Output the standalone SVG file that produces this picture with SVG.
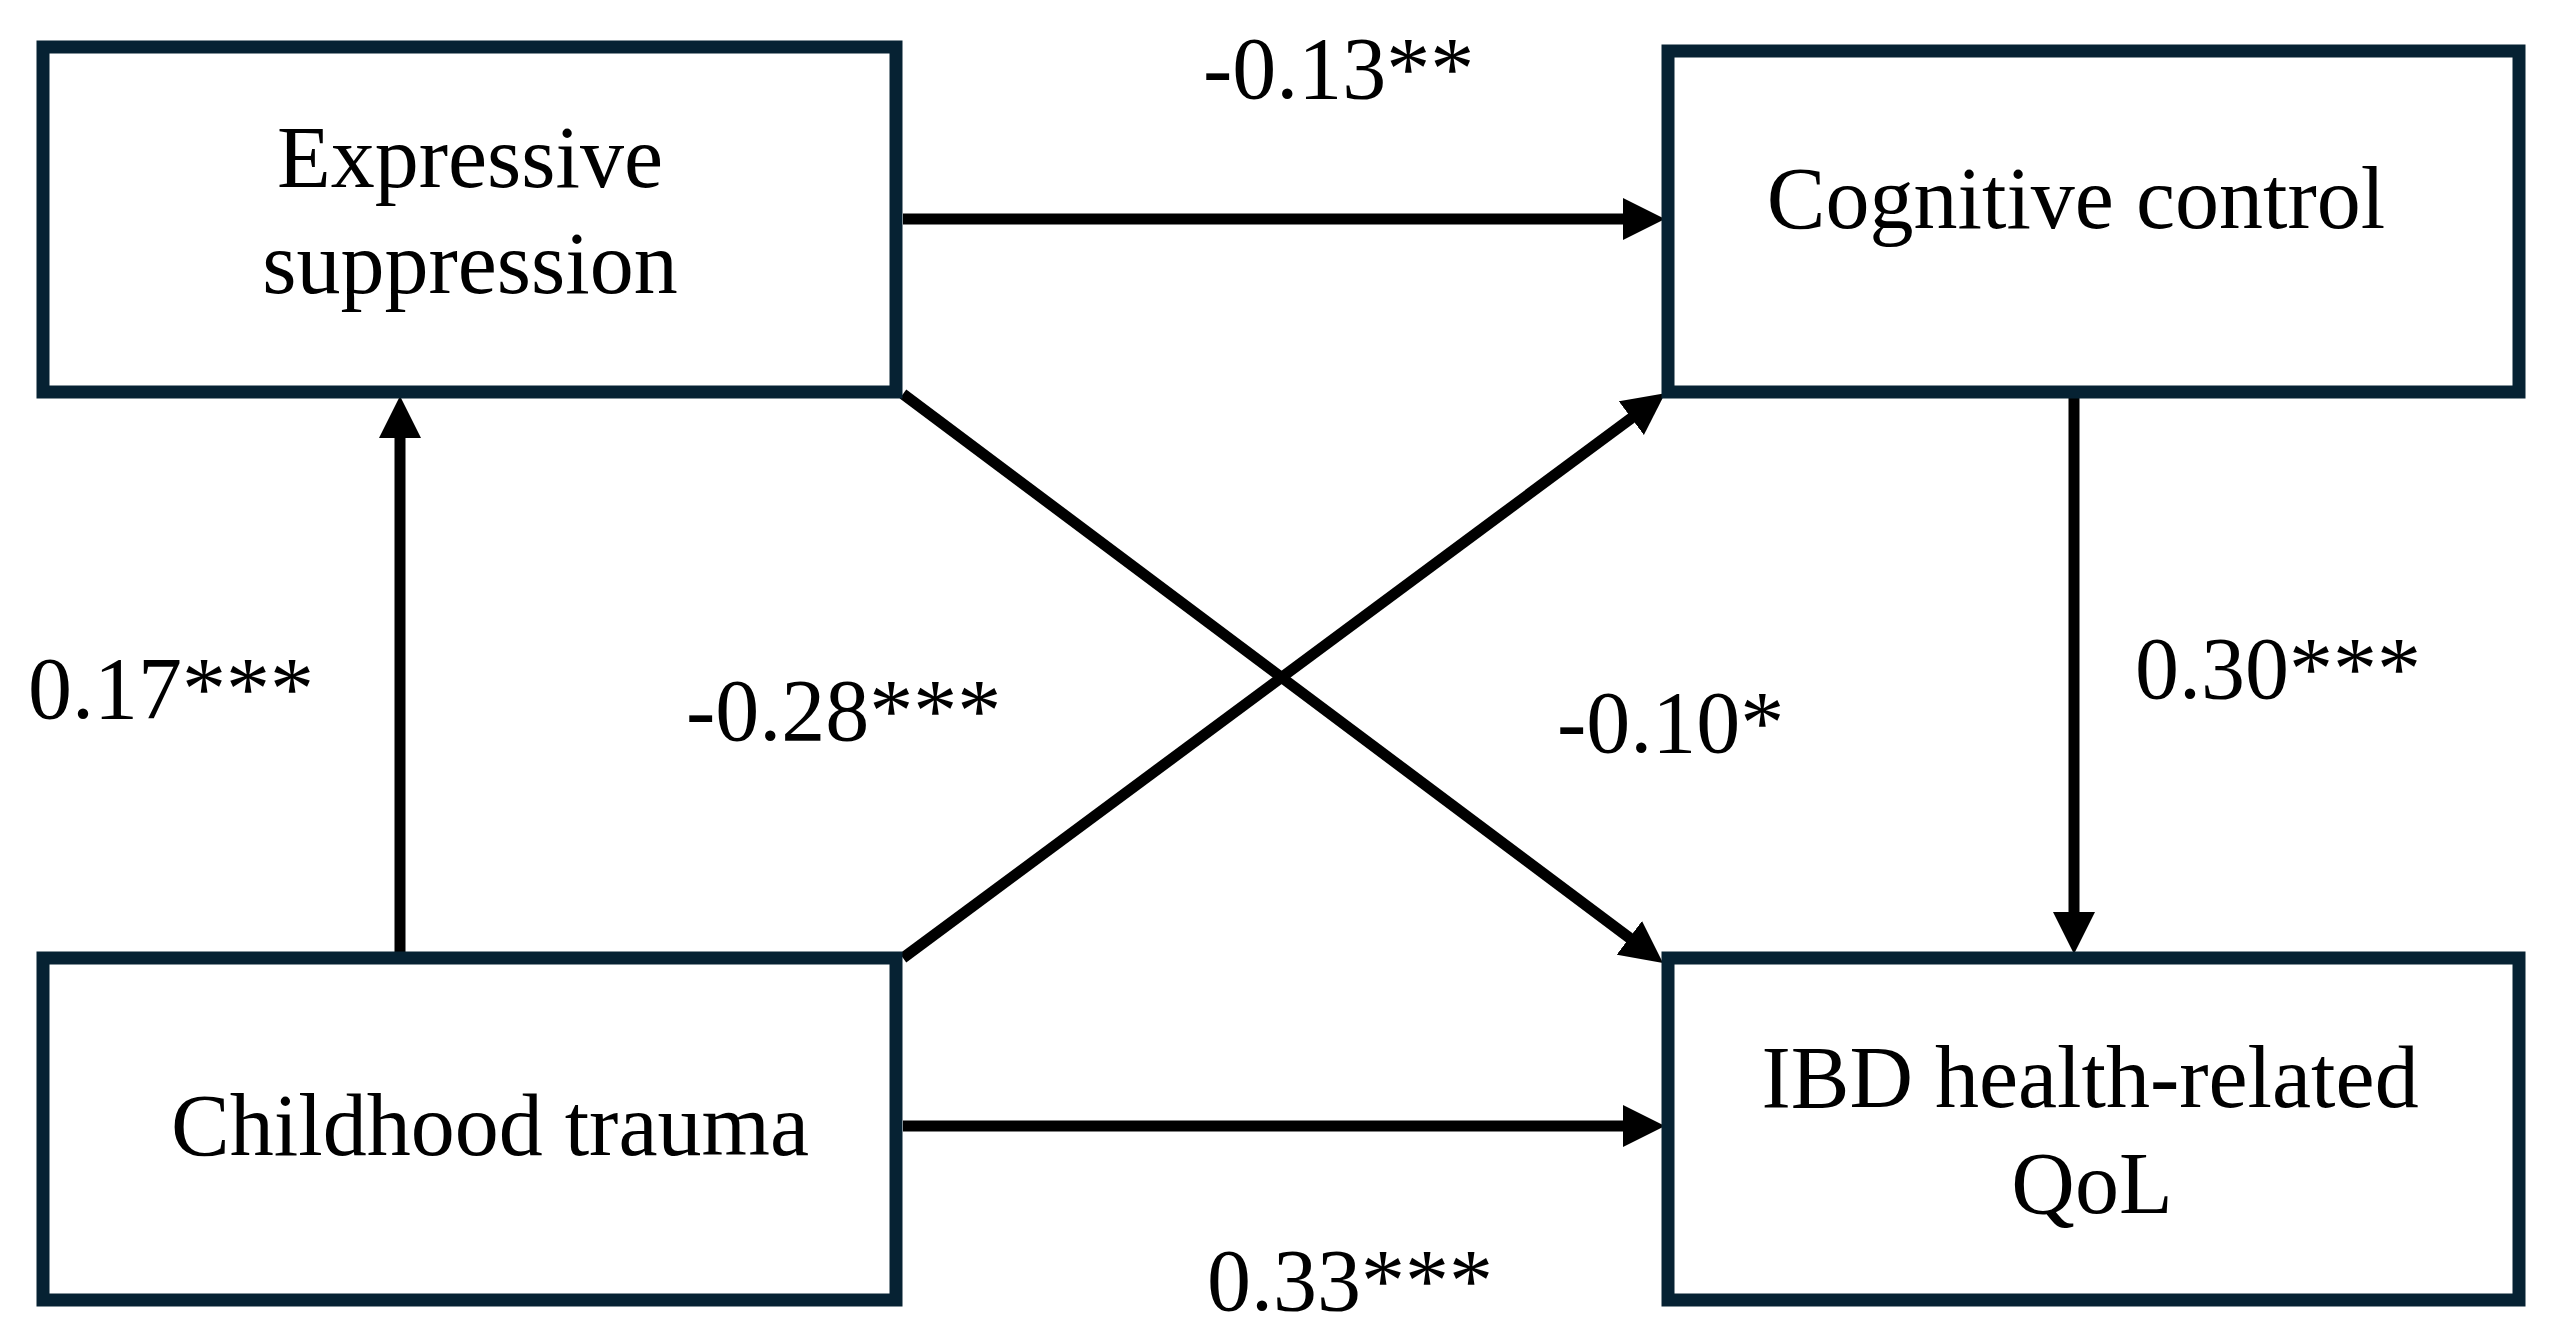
<svg xmlns="http://www.w3.org/2000/svg" width="2551" height="1339" viewBox="0 0 2551 1339">
  <style>
    .box { fill: #ffffff; stroke: #062233; stroke-width: 13; }
    .lbl { font-family: "Liberation Serif", "Times New Roman", serif; font-size: 88px; fill: #000000; }
    .edge { stroke: #000000; stroke-width: 11; fill: none; marker-end: url(#arrow); }
  </style>
  <defs>
    <marker id="arrow" markerUnits="userSpaceOnUse" viewBox="0 0 42 42" markerWidth="42" markerHeight="42" refX="12" refY="21" orient="auto">
      <path d="M0,0 L42,21 L0,42 z" fill="#000000"/>
    </marker>
  </defs>
  <rect width="2551" height="1339" fill="#ffffff"/>

  <g id="connectors">
    <line class="edge" x1="903" y1="219" x2="1635" y2="219"/>
    <line class="edge" x1="903" y1="1126" x2="1635" y2="1126"/>
    <line class="edge" x1="400" y1="952" x2="400" y2="426"/>
    <line class="edge" x1="2074" y1="398" x2="2074" y2="924"/>
    <line class="edge" x1="903" y1="394" x2="1639" y2="945"/>
    <line class="edge" x1="903" y1="958" x2="1641" y2="411"/>
  </g>

  <g id="node-expressive">
    <rect class="box" x="43" y="47" width="853" height="345"/>
    <text class="lbl" x="470" y="187" text-anchor="middle">Expressive</text>
    <text class="lbl" x="470" y="293" text-anchor="middle">suppression</text>
  </g>
  <g id="node-cognitive">
    <rect class="box" x="1668" y="51" width="851" height="341"/>
    <text class="lbl" x="2076" y="228" text-anchor="middle">Cognitive control</text>
  </g>
  <g id="node-childhood">
    <rect class="box" x="43" y="958" width="853" height="342"/>
    <text class="lbl" x="490" y="1155" text-anchor="middle">Childhood trauma</text>
  </g>
  <g id="node-ibd">
    <rect class="box" x="1668" y="958" width="851" height="342"/>
    <text class="lbl" x="2090" y="1107" text-anchor="middle">IBD health-related</text>
    <text class="lbl" x="2092" y="1213" text-anchor="middle">QoL</text>
  </g>

  <g id="edge-labels">
    <text class="lbl" x="1203" y="98">-0.13**</text>
    <text class="lbl" x="28" y="718">0.17***</text>
    <text class="lbl" x="686" y="740">-0.28***</text>
    <text class="lbl" x="1557" y="752">-0.10*</text>
    <text class="lbl" x="2135" y="698">0.30***</text>
    <text class="lbl" x="1207" y="1310">0.33***</text>
  </g>
</svg>
